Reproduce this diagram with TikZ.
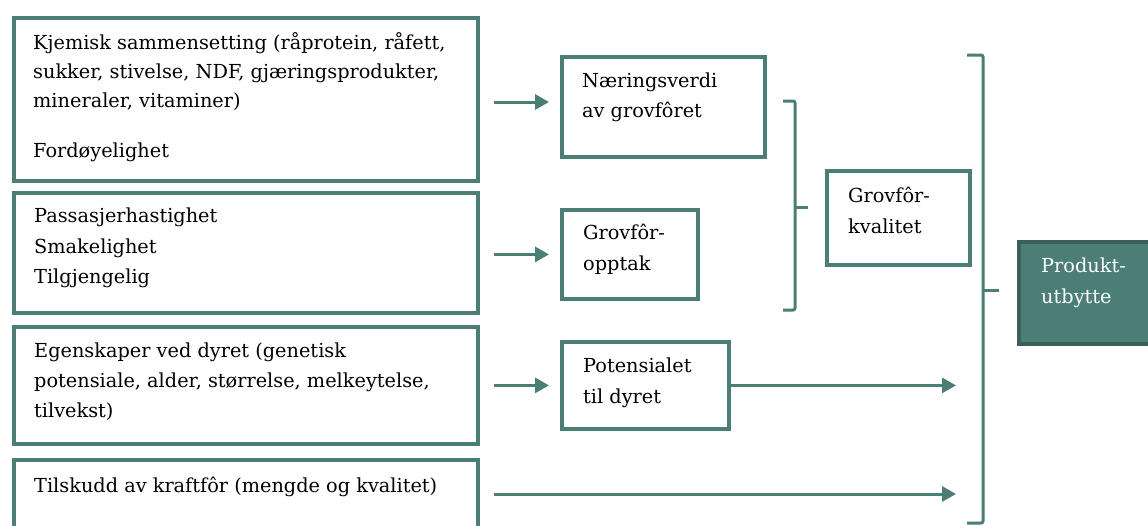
\documentclass[tikz,border=0pt]{standalone}
\usepackage{fontspec}
\setmainfont{DejaVu Serif}
\usetikzlibrary{arrows.meta}
\definecolor{teal1}{HTML}{4B7E75}
\definecolor{tealdark}{HTML}{3A6059}
\begin{document}
\begin{tikzpicture}[x=1pt,y=-1pt,
  box/.style={draw=teal1,line width=3.8pt,fill=white,inner sep=0pt,anchor=north west},
  txt/.style={anchor=base west,inner sep=0pt,font=\fontsize{19.3}{29}\selectfont},
  arr/.style={draw=teal1,line width=3pt,-{Triangle[length=14pt,width=15pt]}},
  brace/.style={draw=teal1,line width=3pt,rounded corners=2pt}]
\useasboundingbox (0,0) rectangle (1148,525);
\begin{scope}
\clip (0,0) rectangle (1148,525);
% left boxes
\node[box,minimum width=464pt,minimum height=163pt] (b1) at (12,16) {};
\node[box,minimum width=464pt,minimum height=120pt] (b2) at (12,191) {};
\node[box,minimum width=464pt,minimum height=117pt] (b3) at (12,325) {};
\node[box,minimum width=464pt,minimum height=100pt] (b4) at (12,458) {};
% middle boxes
\node[box,minimum width=203pt,minimum height=100pt] (nv) at (560,55) {};
\node[box,minimum width=136pt,minimum height=89pt] (go) at (560,208) {};
\node[box,minimum width=167pt,minimum height=87pt] (pd) at (560,340) {};
\node[box,minimum width=143pt,minimum height=94pt] (gk) at (825,169) {};
\node[box,draw=tealdark,fill=teal1,minimum width=160pt,minimum height=102pt] (pu) at (1017,240) {};
\end{scope}
% texts
\node[txt] (t1a) at (33,49) {Kjemisk sammensetting (råprotein, råfett,};
\node[txt] (t1b) at (33,78) {sukker, stivelse, NDF, gjæringsprodukter,};
\node[txt] (t1c) at (33,107) {mineraler, vitaminer)};
\node[txt] (t1d) at (33,157) {Fordøyelighet};
\node[txt] (t2a) at (34,222) {Passasjerhastighet};
\node[txt] (t2b) at (34,253) {Smakelighet};
\node[txt] (t2c) at (34,283) {Tilgjengelig};
\node[txt] (t3a) at (34,357) {Egenskaper ved dyret (genetisk};
\node[txt] (t3b) at (34,387) {potensiale, alder, størrelse, melkeytelse,};
\node[txt] (t3c) at (34,417) {tilvekst)};
\node[txt] (t4) at (34,492) {Tilskudd av kraftfôr (mengde og kvalitet)};
\node[txt] (tnva) at (582,87) {Næringsverdi};
\node[txt] (tnvb) at (582,117) {av grovfôret};
\node[txt] (tgoa) at (583,239) {Grovfôr-};
\node[txt] (tgob) at (583,270) {opptak};
\node[txt] (tpda) at (583,372) {Potensialet};
\node[txt] (tpdb) at (583,403) {til dyret};
\node[txt] (tgka) at (848,202) {Grovfôr-};
\node[txt] (tgkb) at (848,233) {kvalitet};
\node[txt,text=white] (tpua) at (1041,272) {Produkt-};
\node[txt,text=white] (tpub) at (1041,303) {utbytte};
% arrows
\coordinate (p3) at (956,383);
\coordinate (p4) at (956,494);
\draw[arr,shorten <=14pt,shorten >=11pt] (b1.east |- 0,102) -- (nv.west |- 0,102);
\draw[arr,shorten <=14pt,shorten >=11pt] (b2.east |- go.west) -- (go.west);
\draw[arr,shorten <=14pt,shorten >=11pt] (b3.east |- pd.west) -- (pd.west);
\draw[arr] (pd.east) -- (pd.east -| p3);
\draw[arr,shorten <=14pt] (b4.east |- p4) -- (p4);
% braces
\coordinate (br1t) at (783,101);
\coordinate (br1b) at (783,310);
\draw[brace] (br1t) -- (795,101) -- (795,310) -- (br1b);
\draw[brace] (795,207) -- (808,207);
\coordinate (br2t) at (967,55);
\coordinate (br2b) at (967,523);
\draw[brace] (br2t) -- (983,55) -- (983,523) -- (br2b);
\draw[brace] (983,290) -- (999,290);
\end{tikzpicture}
\end{document}
